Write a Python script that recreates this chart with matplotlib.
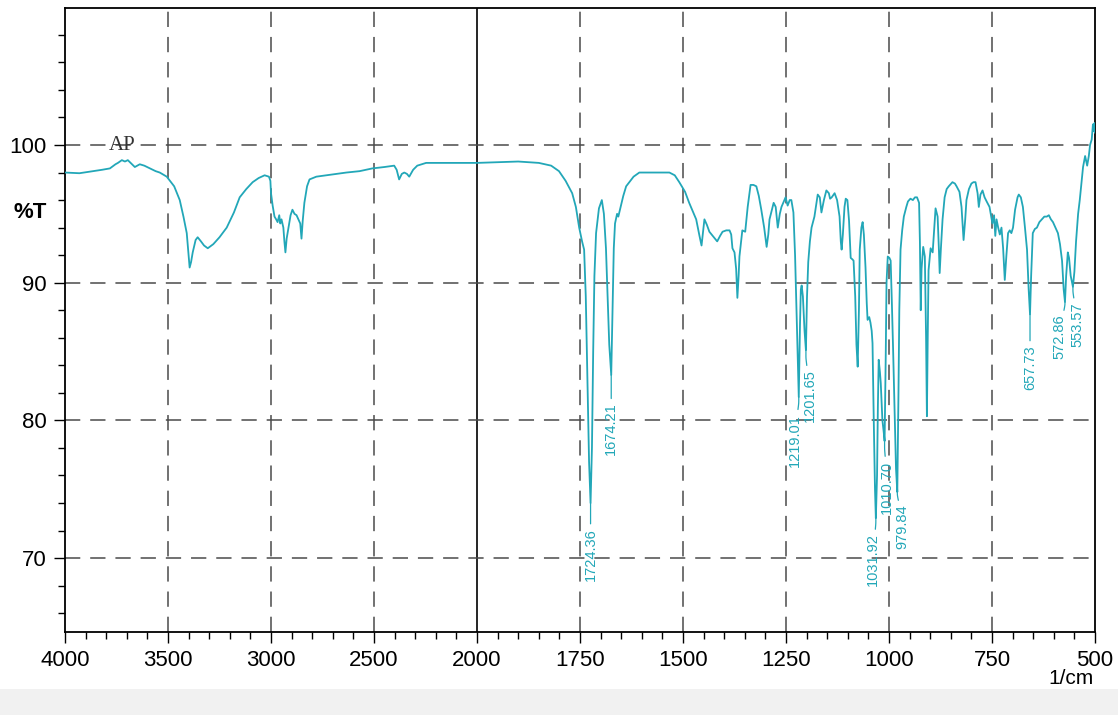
import numpy as np
import matplotlib.pyplot as plt
from matplotlib.ticker import FixedLocator, NullFormatter
from matplotlib.patches import Rectangle

# IR spectrum, wavenumber in 1/cm, transmittance in %T
wavenumber = [
    4000, 3930, 3864, 3820, 3782, 3755, 3743, 3724, 3709, 3695, 3675, 3661, 3637, 3615, 3588,
    3560, 3540, 3506, 3470, 3443, 3425, 3409, 3400, 3395, 3388, 3380, 3366, 3356, 3340, 3325,
    3307, 3280, 3250, 3215, 3180, 3152, 3120, 3089, 3060, 3031, 3010, 3003, 3000, 2992, 2983,
    2975, 2968, 2960, 2955, 2949, 2940, 2935, 2930, 2924, 2915, 2905, 2896, 2886, 2876, 2867,
    2858, 2852, 2846, 2838, 2825, 2813, 2780, 2731, 2680, 2634, 2570, 2508, 2450, 2402, 2390,
    2378, 2365, 2353, 2340, 2329, 2310, 2290, 2247, 2150, 2000, 1900, 1850, 1820, 1801, 1785,
    1769, 1760, 1752, 1745, 1740, 1736, 1732, 1728, 1724.36, 1721, 1718, 1715, 1711, 1704,
    1697, 1692, 1687, 1683, 1679, 1674.21, 1671, 1668, 1665, 1660, 1657, 1653, 1645, 1638,
    1620, 1606, 1580, 1558, 1533, 1520, 1509, 1495, 1485, 1475, 1468, 1460, 1455, 1451, 1448,
    1442, 1436, 1425, 1417, 1410, 1404, 1395, 1387, 1383, 1380, 1375, 1371, 1368, 1365, 1363,
    1359, 1356, 1349, 1343, 1336, 1329, 1322, 1316, 1310, 1303, 1297, 1293, 1290, 1280, 1275,
    1270, 1265, 1261, 1251, 1246, 1241, 1237, 1232, 1228, 1224, 1221, 1219.01, 1216, 1214,
    1212, 1209, 1205, 1201.65, 1199, 1196, 1192, 1188, 1181, 1177, 1173, 1168, 1164, 1158,
    1152, 1146, 1143, 1139, 1132, 1126, 1120, 1117, 1115, 1112, 1108, 1105, 1101, 1097, 1093,
    1089, 1086, 1082, 1079, 1076, 1073, 1071, 1067, 1064, 1061, 1057, 1054, 1052, 1048, 1045,
    1042, 1040, 1037, 1034, 1031.92, 1029, 1027, 1025, 1022, 1020, 1016, 1013, 1010.70, 1008,
    1006, 1003, 999, 996, 993, 990, 986, 983, 979.84, 977, 975, 972, 968, 964, 958, 954, 948,
    942, 937, 932, 927, 925, 923, 921, 917, 913, 910, 908, 906, 904, 899, 894, 890, 887, 882,
    879, 877, 874, 870, 865, 860, 855, 846, 840, 836, 829, 824, 819, 815, 812, 806, 800, 795,
    790, 785, 782, 778, 773, 768, 763, 756, 749, 745, 742, 739, 735, 731, 727, 723, 719, 715,
    711, 707, 703, 699, 694, 688, 685, 680, 675, 670, 665, 661, 657.73, 655, 651, 646, 641,
    635, 629, 623, 617, 612, 607, 602, 596, 590, 585, 580, 576, 572.86, 570, 566, 563, 559,
    553.57, 550, 546, 541, 537, 533, 529, 524, 521, 519, 515, 512, 508, 505, 503, 501, 500,
]
transmittance = [
    98.0, 97.95, 98.1, 98.2, 98.3, 98.6, 98.7, 98.9, 98.8, 98.9, 98.6, 98.4, 98.6, 98.5, 98.3,
    98.1, 98.0, 97.7, 97.0, 96.0, 94.8, 93.6, 92.0, 91.1, 91.5, 92.2, 93.1, 93.3, 93.0, 92.7,
    92.5, 92.8, 93.3, 94.0, 95.1, 96.2, 96.8, 97.3, 97.6, 97.8, 97.7, 97.4, 96.5, 95.6, 94.8,
    94.6, 94.4, 94.9, 94.3, 94.6, 94.0, 93.0, 92.2, 93.2, 94.0, 94.9, 95.3, 95.0, 94.9, 94.6,
    94.3, 93.2, 94.5, 95.8, 97.0, 97.5, 97.7, 97.8, 97.9, 98.0, 98.1, 98.3, 98.4, 98.5, 98.2,
    97.5, 97.9, 98.0, 97.9, 97.7, 98.2, 98.5, 98.7, 98.7, 98.7, 98.8, 98.7, 98.5, 98.1, 97.4,
    96.5, 95.5, 94.0, 93.0, 92.4, 89.0, 83.0, 77.0, 74.0, 78.0, 85.0, 90.5, 93.6, 95.4,
    96.0, 95.0, 92.5, 89.0, 85.5, 83.3, 88.0, 92.5, 94.3, 95.0, 94.8, 95.3, 96.3, 97.0,
    97.7, 98.0, 98.0, 98.0, 98.0, 97.8, 97.3, 96.6, 95.8, 95.1, 94.6, 93.4, 92.7, 93.8, 94.6,
    94.2, 93.7, 93.3, 93.0, 93.4, 93.7, 93.8, 93.8, 93.5, 92.5, 92.2, 91.0, 88.9, 90.5, 91.9,
    93.0, 93.8, 93.7, 95.5, 97.1, 97.1, 97.0, 96.3, 95.3, 94.0, 92.6, 93.5, 94.6, 95.8, 95.5,
    94.0, 95.0, 95.5, 96.2, 95.6, 96.0, 96.0, 95.1, 92.0, 87.3, 84.0, 81.7, 87.0, 89.5,
    89.8, 89.0, 86.5, 85.1, 89.0, 91.5, 93.0, 94.0, 94.8, 95.6, 96.4, 96.2, 95.1, 96.0,
    96.7, 96.5, 96.1, 96.2, 96.5, 96.0, 94.8, 93.0, 92.4, 93.5, 95.5, 96.1, 96.0, 94.5, 91.8,
    91.7, 91.6, 89.0, 85.5, 83.9, 88.0, 92.4, 94.0, 94.4, 93.5, 91.1, 88.5, 87.3, 87.5, 87.1,
    86.5, 85.6, 80.0, 75.0, 72.9, 76.0, 81.0, 84.4, 83.5, 82.7, 80.0, 79.2, 78.5, 84.5,
    90.0, 91.9, 91.8, 91.6, 88.5, 85.1, 80.0, 76.5, 74.8, 82.0, 88.0, 92.4, 93.8, 94.8, 95.5, 95.9, 96.1,
    96.0, 96.2, 96.2, 95.8, 93.0, 88.0, 91.0, 92.6, 91.9, 86.0, 80.3, 86.0, 90.9, 92.5, 92.2, 94.0, 95.4, 94.8,
    92.5, 90.7, 92.5, 94.6, 96.2, 96.8, 97.0, 97.3, 97.2, 97.0, 96.6, 95.5, 93.1, 94.6, 96.0, 96.8, 97.2, 97.3,
    97.3, 96.5, 95.5, 96.4, 96.7, 96.2, 95.9, 95.5, 94.3, 94.9, 93.4, 94.6, 94.0, 93.5, 94.0, 92.5, 90.2, 92.0,
    93.6, 93.8, 93.6, 94.0, 95.3, 96.2, 96.4, 96.2, 95.5, 94.0, 92.4, 89.5, 87.7, 90.5, 93.6, 93.9, 94.0,
    94.4, 94.6, 94.8, 94.8, 94.9, 94.6, 94.4, 94.0, 93.6, 92.8, 91.6, 89.5, 88.6, 90.5, 92.2, 91.8, 90.5,
    89.7, 90.8, 93.0, 95.0, 96.0, 97.2, 98.4, 99.2, 98.8, 98.5, 99.2, 100.0, 100.4, 101.5, 101.0, 101.6, 100.9,
]

peak_wn = [1724.36, 1674.21, 1219.01, 1201.65, 1031.92, 1010.70, 979.84, 657.73, 572.86, 553.57]
peak_t = [74.0, 83.3, 81.7, 85.1, 72.9, 78.5, 74.8, 87.7, 88.6, 89.7]
peak_labels = ['1724.36', '1674.21', '1219.01', '1201.65', '1031.92',
               '1010.70', '979.84', '657.73', '572.86', '553.57']
# (dx, drop) of each label in points
label_offsets = [(0, 18), (0, 20), (-3, 12), (3, 14), (-2, 11),
                 (2, 14), (4, 9), (0, 22), (-4, 9), (3, 11)]

x_ticks = [4000, 3500, 3000, 2500, 2000, 1750, 1500, 1250, 1000, 750, 500]
y_ticks = [70, 80, 90, 100]

teal = '#22a7b8'
grid_col = '#4a4a4a'
tick_font = ['Liberation Sans Narrow', 'Liberation Sans', 'DejaVu Sans']


def fwd(x):
    x = np.asarray(x, dtype=float)
    return np.where(x >= 2000, 1.5 + (x - 2000) / 2000, (x - 500) / 1000)


def inv(p):
    p = np.asarray(p, dtype=float)
    return np.where(p >= 1.5, 2000 + (p - 1.5) * 2000, 500 + p * 1000)


fig = plt.figure(figsize=(11.18, 7.15), dpi=100)
ax = fig.add_axes([65 / 1118, 1 - 632 / 715, 1030 / 1118, 624 / 715])
ax.set_xscale('function', functions=(fwd, inv))
ax.set_xlim(4000, 500)
ax.set_ylim(64.63, 109.95)

# grid
for xv in x_ticks[1:-1]:
    if xv == 2000:
        ax.axvline(xv, color='black', lw=1.2, zorder=1)
    else:
        ax.axvline(xv, color=grid_col, lw=1.1, dashes=(10, 6.5), zorder=1)
for yv in y_ticks:
    ax.axhline(yv, color=grid_col, lw=1.1, dashes=(10, 6.5), zorder=1)

ax.plot(wavenumber, transmittance, color=teal, lw=1.3, zorder=3)

for wn, t, lab, (dx, dy) in zip(peak_wn, peak_t, peak_labels, label_offsets):
    ax.annotate(lab, xy=(wn, t), xytext=(dx, -dy), textcoords='offset points',
                rotation=90, ha='center', va='top', color=teal, fontsize=10.5,
                family=tick_font,
                arrowprops=dict(arrowstyle='-', color=teal, lw=0.9,
                                shrinkA=1, shrinkB=0,
                                connectionstyle='arc,angleA=90,angleB=-90,armA=3,armB=%d,rad=2' % max(dy - 6, 2)),
                zorder=4)

ax.text(3785, 99.65, 'AP', family='Liberation Serif', fontsize=15, color='#333333',
        ha='left', va='baseline', zorder=4)

# ticks
ax.xaxis.set_major_locator(FixedLocator(x_ticks))
minor_x = list(range(3900, 2000, -100)) + list(range(1950, 500, -50))
ax.xaxis.set_minor_locator(FixedLocator([m for m in minor_x if m not in x_ticks]))
ax.xaxis.set_minor_formatter(NullFormatter())
ax.set_xticklabels([str(v) for v in x_ticks])
ax.yaxis.set_major_locator(FixedLocator(y_ticks))
ax.yaxis.set_minor_locator(FixedLocator([v for v in range(66, 110, 2) if v not in y_ticks]))
ax.yaxis.set_minor_formatter(NullFormatter())
ax.set_yticklabels([str(v) for v in y_ticks])

ax.tick_params(which='major', direction='out', length=8, width=1.0, pad=5, labelsize=16)
ax.tick_params(which='minor', direction='out', length=5, width=1.0)
for lbl in ax.get_xticklabels() + ax.get_yticklabels():
    lbl.set_family(tick_font)

for sp in ax.spines.values():
    sp.set_linewidth(1.3)

fig.text(13 / 1118, 1 - 213 / 715, '%T', ha='left', va='center', fontsize=16,
         fontweight='bold', family=['Liberation Sans', 'DejaVu Sans'])
fig.text(1094 / 1118, 1 - 678 / 715, '1/cm', ha='right', va='center', fontsize=15,
         family=tick_font)

# light band at the bottom of the screenshot
fig.patches.append(Rectangle((0, 0), 1, 26 / 715, transform=fig.transFigure,
                             facecolor='#f1f1f1', edgecolor='none', zorder=0))

fig.savefig('out.png', dpi=100)
